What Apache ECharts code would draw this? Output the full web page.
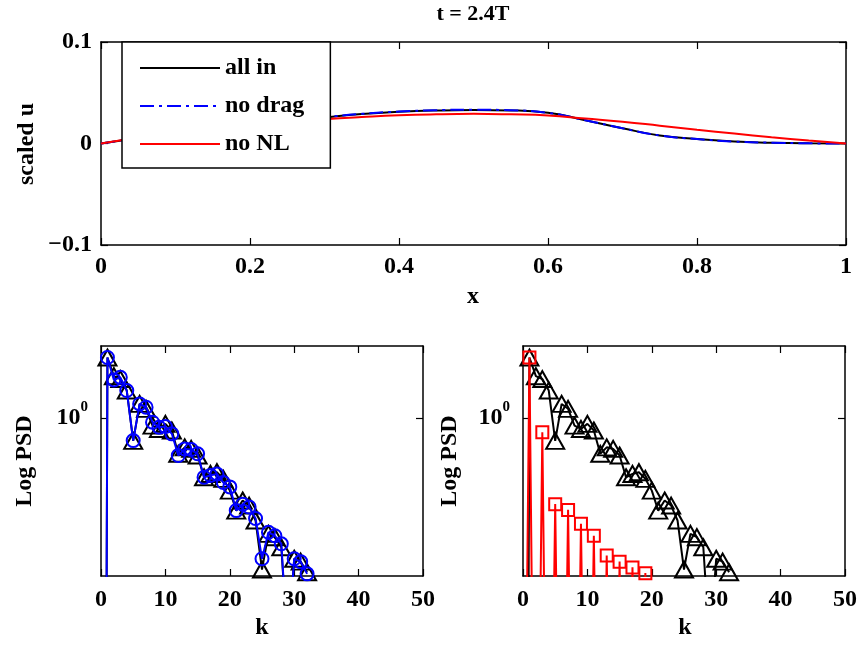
<!DOCTYPE html>
<html>
<head>
<meta charset="utf-8">
<script src="https://cdn.jsdelivr.net/npm/echarts@6/dist/echarts.min.js"></script>
<style>html,body{margin:0;padding:0;background:#fff}#c{width:860px;height:645px}</style>
</head>
<body>
<div id="c"></div>
<script>
// ---- top panel: scaled u vs x ----
const xTop    = [0, 0.025, 0.05, 0.1, 0.15, 0.2, 0.25, 0.3, 0.35, 0.4, 0.45, 0.5, 0.55, 0.6, 0.65, 0.7, 0.75, 0.8, 0.85, 0.9, 0.95, 1];
const uAllIn  = [0, 0.0028, 0.0055, 0.0102, 0.0143, 0.018, 0.022, 0.0257, 0.029, 0.0312, 0.0325, 0.033, 0.0326, 0.0302, 0.023, 0.015, 0.0079, 0.0044, 0.0019, 0.0008, 0.0002, 0];
const uNoDrag = [0, 0.0028, 0.0055, 0.0102, 0.0143, 0.018, 0.022, 0.0258, 0.0292, 0.0315, 0.0328, 0.0333, 0.0328, 0.0302, 0.023, 0.015, 0.0079, 0.0044, 0.0019, 0.0008, 0.0002, 0];
const uNoNL   = [0, 0.003, 0.0058, 0.0105, 0.0145, 0.018, 0.021, 0.0238, 0.026, 0.0278, 0.0288, 0.0292, 0.0287, 0.0276, 0.0246, 0.0215, 0.0176, 0.0136, 0.0098, 0.0062, 0.003, 0];
const xTicksTop = [0, 0.2, 0.4, 0.6, 0.8, 1];
const yTicksTop = [-0.1, 0, 0.1];

// ---- bottom panels: log10 PSD vs k ----
const kAll   = [0,1,2,3,4,5,6,7,8,9,10,11,12,13,14,15,16,17,18,19,20,21,22,23,24,25,26,27,28,29,30,31,32];
const lpAllIn  = [-12, 0.42, 0.29, 0.27, 0.19, -0.16, 0.097, 0.063, -0.054, -0.077, -0.042, -0.088, -0.25, -0.205, -0.216, -0.262, -0.413, -0.39, -0.378, -0.424, -0.506, -0.645, -0.575, -0.61, -0.714, -1.055, -0.807, -0.83, -0.9, -1.6, -0.98, -1.0, -1.074];
const lpNoDrag = [-12, 0.42, 0.264, 0.282, 0.19, -0.158, 0.097, 0.074, -0.03, -0.065, -0.06, -0.111, -0.262, -0.216, -0.22, -0.25, -0.413, -0.4, -0.39, -0.45, -0.48, -0.645, -0.6, -0.62, -0.7, -0.98, -0.796, -0.82, -0.876, -1.6, -0.98, -1.0, -1.085];
const kNoNL  = [0,1,2,3,4,5,6,7,8,9,10,11,12,13,14,15,16,17,18,19,20];
const lpNoNL = [-4, 0.42, -4, -0.1, -4, -0.6, -4, -0.64, -4, -0.737, -4, -0.82, -4, -0.958, -4, -1.0, -4, -1.04, -4, -1.08, -4];
const kTicks = [0, 10, 20, 30, 40, 50];
const logTick = [0];

const FF = '"Liberation Serif","Times New Roman",serif';
const FS = 24;
const lbl = {fontFamily: FF, fontWeight: 'bold', fontSize: FS, color: '#000'};

function pairs(xs, ys) { return xs.map((x, i) => [x, ys[i]]); }

function xAx(grid, pos, min, max, interval, showLabel, margin) {
  return {
    type: 'value', gridIndex: grid, position: pos, min: min, max: max, interval: interval,
    axisLine: {show: true, onZero: false, lineStyle: {color: '#000', width: 1.5}},
    axisTick: {show: true, inside: true, length: 7, lineStyle: {color: '#000', width: 1.2}},
    splitLine: {show: false},
    axisLabel: showLabel ? Object.assign({margin: margin, formatter: v => String(Number(v.toFixed(3)))}, lbl) : {show: false}
  };
}
function yAxTop(pos, showLabel) {
  return {
    type: 'value', gridIndex: 0, position: pos, min: -0.1, max: 0.1, interval: 0.1,
    axisLine: {show: true, onZero: false, lineStyle: {color: '#000', width: 1.5}},
    axisTick: {show: true, inside: true, length: 7, lineStyle: {color: '#000', width: 1.2}},
    splitLine: {show: false},
    axisLabel: showLabel ? Object.assign({margin: 9, formatter: v => {
      const r = Number(v.toFixed(3));
      return r < 0 ? '\u2212' + String(-r) : String(r);
    }}, lbl) : {show: false}
  };
}
function yAxLog(grid, pos, showLabel) {
  return {
    type: 'value', gridIndex: grid, position: pos, min: -1.1, max: 0.5,
    axisLine: {show: true, onZero: false, lineStyle: {color: '#000', width: 1.5}},
    axisTick: {show: true, inside: true, length: 7, customValues: logTick, lineStyle: {color: '#000', width: 1.2}},
    splitLine: {show: false},
    axisLabel: showLabel ? {
      margin: 13, customValues: logTick,
      formatter: () => '{b|10}{s|0}',
      rich: {
        b: {fontFamily: FF, fontWeight: 'bold', fontSize: FS, color: '#000'},
        s: {fontFamily: FF, fontWeight: 'bold', fontSize: 15, color: '#000', padding: [0, 0, 22, 0]}
      }
    } : {show: false}
  };
}

const lineMk = (name, xi, yi, data, color, symbol, size, z) => ({
  name: name, type: 'line', xAxisIndex: xi, yAxisIndex: yi, data: data, z: z,
  symbol: symbol, symbolSize: size, showSymbol: true, showAllSymbol: true,
  clip: true, animation: false,
  lineStyle: {color: color, width: 2},
  itemStyle: {color: 'rgba(0,0,0,0)', borderColor: color, borderWidth: 2},
  emphasis: {disabled: true}
});

const chart = echarts.init(document.getElementById('c'), null, {renderer: 'canvas'});
chart.setOption({
  backgroundColor: '#fff',
  animation: false,
  grid: [
    {left: 101, top: 42, width: 745, height: 203},
    {left: 101, top: 346, width: 322, height: 230},
    {left: 523, top: 346, width: 323, height: 230}
  ],
  xAxis: [
    xAx(0, 'bottom', 0, 1, 0.2, true, 10),
    xAx(0, 'top', 0, 1, 0.2, false),
    xAx(1, 'bottom', 0, 50, 10, true, 12),
    xAx(1, 'top', 0, 50, 10, false),
    xAx(2, 'bottom', 0, 50, 10, true, 12),
    xAx(2, 'top', 0, 50, 10, false)
  ],
  yAxis: [
    yAxTop('left', true),
    yAxTop('right', false),
    yAxLog(1, 'left', true),
    yAxLog(1, 'right', false),
    yAxLog(2, 'left', true),
    yAxLog(2, 'right', false)
  ],
  legend: {
    show: true, left: 122, top: 42, orient: 'vertical',
    data: ['all in', 'no drag', 'no NL'],
    itemWidth: 80, itemHeight: 14, itemGap: 10,
    padding: [12, 26, 10, 17],
    backgroundColor: '#fff', borderColor: '#000', borderWidth: 1.5, borderRadius: 0,
    itemStyle: {opacity: 0},
    textStyle: {fontFamily: FF, fontWeight: 'bold', fontSize: FS, color: '#000', lineHeight: 28},
    selectedMode: false, z: 10
  },
  series: [
    {name: 'all in', type: 'line', xAxisIndex: 0, yAxisIndex: 0, data: pairs(xTop, uAllIn), smooth: true, symbol: 'none',
     lineStyle: {color: '#000', width: 2}, itemStyle: {color: '#000'}, z: 2},
    {name: 'no drag', type: 'line', xAxisIndex: 0, yAxisIndex: 0, data: pairs(xTop, uNoDrag), smooth: true, symbol: 'none',
     lineStyle: {color: '#0000ff', width: 2, type: [14, 5, 3, 5]}, itemStyle: {color: '#0000ff'}, z: 3},
    {name: 'no NL', type: 'line', xAxisIndex: 0, yAxisIndex: 0, data: pairs(xTop, uNoNL), smooth: true, symbol: 'none',
     lineStyle: {color: '#ff0000', width: 2}, itemStyle: {color: '#ff0000'}, z: 4},
    lineMk('psd all in L', 2, 2, pairs(kAll, lpAllIn), '#000', 'triangle', [18, 16], 2),
    lineMk('psd no drag', 2, 2, pairs(kAll, lpNoDrag), '#0000ff', 'circle', 13, 3),
    lineMk('psd all in R', 4, 4, pairs(kAll, lpAllIn), '#000', 'triangle', [18, 16], 2),
    lineMk('psd no NL', 4, 4, pairs(kNoNL, lpNoNL), '#ff0000', 'rect', 12, 3)
  ],
  graphic: [
    {type: 'text', x: 473, y: 14, style: {text: 't = 2.4T', align: 'center', verticalAlign: 'middle', font: 'bold 22px ' + FF, fill: '#000'}},
    {type: 'text', x: 473, y: 297, style: {text: 'x', align: 'center', verticalAlign: 'middle', font: 'bold 24px ' + FF, fill: '#000'}},
    {type: 'text', x: 27, y: 144, rotation: Math.PI / 2, style: {text: 'scaled u', align: 'center', verticalAlign: 'middle', font: 'bold 24px ' + FF, fill: '#000'}},
    {type: 'text', x: 262, y: 628, style: {text: 'k', align: 'center', verticalAlign: 'middle', font: 'bold 24px ' + FF, fill: '#000'}},
    {type: 'text', x: 685, y: 628, style: {text: 'k', align: 'center', verticalAlign: 'middle', font: 'bold 24px ' + FF, fill: '#000'}},
    {type: 'text', x: 25, y: 461, rotation: Math.PI / 2, style: {text: 'Log PSD', align: 'center', verticalAlign: 'middle', font: 'bold 24px ' + FF, fill: '#000'}},
    {type: 'text', x: 450, y: 461, rotation: Math.PI / 2, style: {text: 'Log PSD', align: 'center', verticalAlign: 'middle', font: 'bold 24px ' + FF, fill: '#000'}}
  ]
});
</script>
</body>
</html>
